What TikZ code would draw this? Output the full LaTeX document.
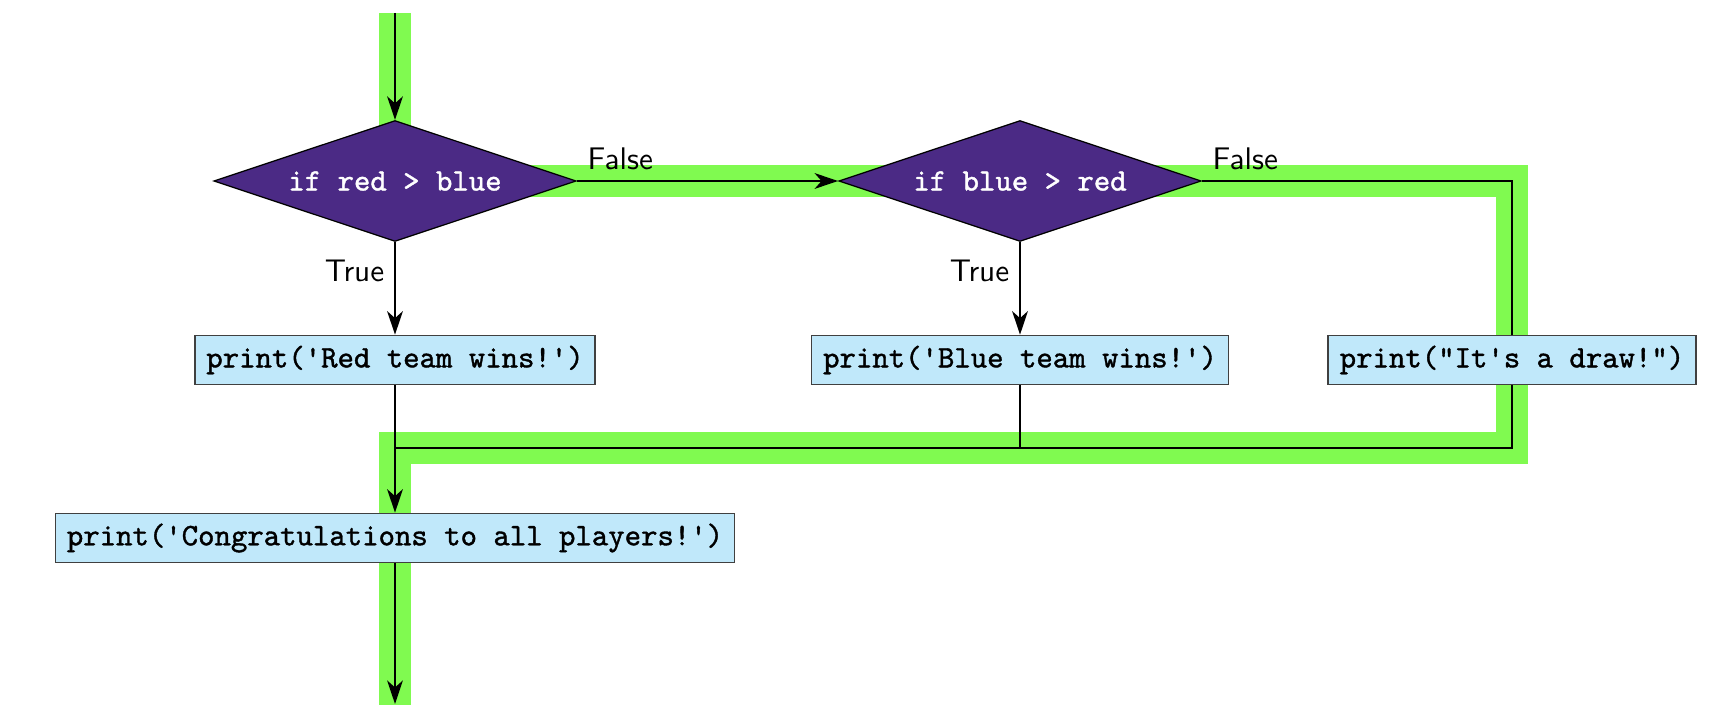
\documentclass[tikz,border=0pt]{standalone}
\usepackage{fontspec}
\setsansfont{Latin Modern Sans}
\setmonofont{Latin Modern Mono}[FakeBold=1.2]
\usetikzlibrary{shapes.geometric,arrows.meta}
\definecolor{hl}{RGB}{128,250,80}
\definecolor{dia}{RGB}{75,42,133}
\definecolor{boxfill}{RGB}{192,232,250}
\begin{document}
\begin{tikzpicture}[x=0.32pt,y=-0.32pt,
  decision/.style={diamond, draw=black, fill=dia, text=white, font=\ttfamily\bfseries,
    minimum width=116pt, minimum height=38.7pt, inner sep=0pt, aspect=3, line width=0.4pt},
  stmt/.style={rectangle, draw=black!75, fill=boxfill, font=\ttfamily,
    minimum height=15.7pt, inner xsep=3.7pt, inner ysep=0pt, line width=0.5pt},
  flow/.style={line width=0.9pt, black},
  arr/.style={flow, -{Stealth[length=7.5pt,width=5pt,inset=2.2pt]}},
  truelbl/.style={font=\sffamily, inner sep=3pt, left, pos=0.31},
  falselbl/.style={font=\sffamily, inner sep=3pt, anchor=south west, pos=0},
  hlpath/.style={line width=10pt, hl, line join=miter, line cap=butt}]
\useasboundingbox (0,0) rectangle (1722,722);

\coordinate (start) at (395,13);
\coordinate (c1) at (395,181);
\coordinate (c2) at (1512,181);
\coordinate (c3) at (1512,448);
\coordinate (m1) at (395,448);
\coordinate (finish) at (395,704);
\coordinate (hlend) at (395,705);

\draw[hlpath] (start) -- (c1) -- (c2) -- (c3) -- (m1) -- (hlend);

\node[decision] (d1) at (395,181) {if red > blue};
\node[decision] (d2) at (1020,181) {if blue > red};
\node[stmt] (b1) at (395,360) {print('Red team wins!')};
\node[stmt] (b2) at (1020,360) {print('Blue team wins!')};
\node[stmt] (b3) at (1512,360) {print("It's a draw!")};
\node[stmt] (b4) at (395,538) {print('Congratulations to all players!')};

\draw[arr] (start) -- (d1);
\draw[arr] (d1) -- node[truelbl] {True} (b1);
\draw[arr] (d1) -- node[falselbl] {False} (d2);
\draw[arr] (d2) -- node[truelbl] {True} (b2);
\draw[flow] (d2) -| node[falselbl] {False} (b3);
\draw[flow] (b3) |- (m1);
\draw[flow] (b2) -- (b2 |- m1);
\draw[flow] (b1) -- (m1);
\draw[arr] (m1) -- (b4);
\draw[arr] (b4) -- (finish);
\end{tikzpicture}
\end{document}
